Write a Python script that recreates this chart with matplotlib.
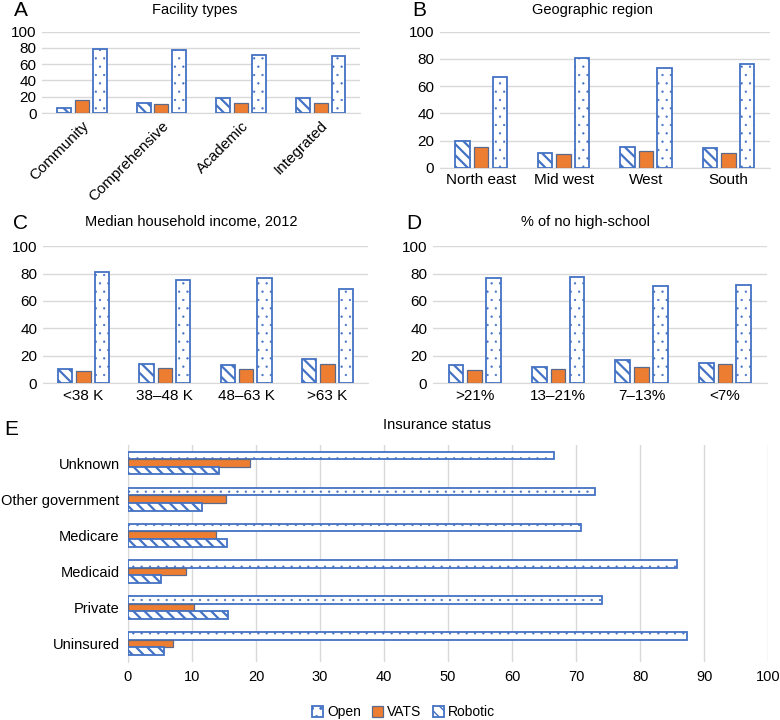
import matplotlib
matplotlib.use("Agg")
import matplotlib.pyplot as plt
import numpy as np
from matplotlib.patches import Patch

plt.rcParams['font.family'] = ['Liberation Sans', 'DejaVu Sans']

# data (percent of patients)
fac_cats = ["Community", "Comprehensive", "Academic", "Integrated"]
fac_robotic = [5.7, 12, 18, 19]
fac_vats = [16, 11, 12, 12]
fac_open = [79, 78, 71, 70]

geo_cats = ["North east", "Mid west", "West", "South"]
geo_robotic = [20, 10.5, 15.4, 14.2]
geo_vats = [15, 10, 12.5, 11]
geo_open = [66.5, 80.5, 73.5, 76]

inc_cats = ["<38 K", "38\u201348 K", "48\u201363 K", ">63 K"]
inc_robotic = [10.5, 14, 13.2, 17.5]
inc_vats = [8.5, 11.2, 10.5, 14]
inc_open = [81, 75, 76.5, 69]

edu_cats = [">21%", "13\u201321%", "7\u201313%", "<7%"]
edu_robotic = [13.2, 12, 17.2, 14.5]
edu_vats = [9.8, 10.4, 11.8, 13.7]
edu_open = [77, 77.8, 71.2, 72]

ins_cats = ["Unknown", "Other government", "Medicare", "Medicaid", "Private", "Uninsured"]
ins_open = [66.6, 73, 70.7, 85.8, 74, 87.3]
ins_vats = [19, 15.3, 13.7, 9, 10.3, 7]
ins_robotic = [14.2, 11.5, 15.4, 5.2, 15.6, 5.6]

BLUE = '#4472C4'
ORANGE = '#ED7D31'
styles = {
    "Open": dict(facecolor='white', edgecolor=BLUE, hatch='..', linewidth=1.3),
    "VATS": dict(facecolor=ORANGE, edgecolor='#5a6a8c', linewidth=0.9),
    "Robotic": dict(facecolor='white', edgecolor=BLUE, hatch='\\' * 3, linewidth=1.3),
}
hatch_lw = {"Open": 0.4, "VATS": 1.0, "Robotic": 1.6}

fig = plt.figure(figsize=(7.8, 7.2), dpi=100)

def draw_bars(fn, name, *args):
    with plt.rc_context({'hatch.linewidth': hatch_lw[name]}):
        bars = fn(*args, zorder=3, **styles[name])
    for b in bars:
        b._hatch_linewidth = hatch_lw[name]
    return bars

def column_panel(rect, cats, rob, vats, opn, title, letter, tx, ty, lx, ly, rotate=False):
    ax = fig.add_axes(rect)
    x = np.arange(len(cats))
    w = 0.175
    step = 0.225
    for off, name, vals in [(-step, "Robotic", rob), (0, "VATS", vats), (step, "Open", opn)]:
        draw_bars(ax.bar, name, x + off, vals, w)
    ax.set_ylim(0, 100)
    ax.set_yticks([0, 20, 40, 60, 80, 100])
    ax.set_xlim(-0.5, len(cats) - 0.5)
    ax.set_xticks(x)
    if rotate:
        ax.set_xticklabels(cats, rotation=45, ha='right', rotation_mode='anchor')
    else:
        ax.set_xticklabels(cats)
    ax.grid(axis='y', color='#d9d9d9', linewidth=1, zorder=0)
    for s in ax.spines.values():
        s.set_visible(False)
    ax.spines['bottom'].set_visible(True)
    ax.spines['bottom'].set_color('#d9d9d9')
    ax.tick_params(length=0, labelsize=11, pad=4)
    fig.text(tx, ty, title, ha='center', va='center', fontsize=10.5)
    fig.text(lx, ly, letter, ha='center', va='center', fontsize=15)
    return ax

column_panel([0.054, 0.843, 0.408, 0.113], fac_cats, fac_robotic, fac_vats, fac_open,
             "Facility types", "A", 0.25, 0.986, 0.027, 0.986, rotate=True)
column_panel([0.564, 0.767, 0.423, 0.189], geo_cats, geo_robotic, geo_vats, geo_open,
             "Geographic region", "B", 0.759, 0.986, 0.537, 0.986)
column_panel([0.055, 0.468, 0.417, 0.190], inc_cats, inc_robotic, inc_vats, inc_open,
             "Median household income, 2012", "C", 0.245, 0.692, 0.026, 0.690)
column_panel([0.555, 0.468, 0.428, 0.190], edu_cats, edu_robotic, edu_vats, edu_open,
             "% of no high-school", "D", 0.751, 0.692, 0.531, 0.690)

# panel E: horizontal bars
ax = fig.add_axes([0.164, 0.081, 0.821, 0.301])
y = np.arange(len(ins_cats))
h = 0.21
for off, name, vals in [(-h, "Open", ins_open), (0, "VATS", ins_vats), (h, "Robotic", ins_robotic)]:
    draw_bars(ax.barh, name, y + off, vals, h)
ax.set_ylim(len(ins_cats) - 0.5, -0.5)
ax.set_yticks(y)
ax.set_yticklabels(ins_cats)
ax.set_xlim(0, 100)
ax.set_xticks(np.arange(0, 101, 10))
ax.grid(axis='x', color='#d9d9d9', linewidth=1, zorder=0)
for s in ax.spines.values():
    s.set_visible(False)
ax.spines['left'].set_visible(True)
ax.spines['left'].set_color('#d9d9d9')
ax.tick_params(length=0, labelsize=10.5, pad=6)
fig.text(0.56, 0.410, "Insurance status", ha='center', va='center', fontsize=10.5)
fig.text(0.014, 0.404, "E", ha='center', va='center', fontsize=15)

with plt.rc_context({'hatch.linewidth': 1.0}):
    handles = [Patch(label=n, **styles[n]) for n in ["Open", "VATS", "Robotic"]]
fig.legend(handles=handles, loc='center', bbox_to_anchor=(0.517, 0.011), ncol=3,
           frameon=False, fontsize=10, handlelength=0.8, handleheight=0.8,
           handletextpad=0.3, columnspacing=0.8)

fig.savefig("out.png", dpi=100)
